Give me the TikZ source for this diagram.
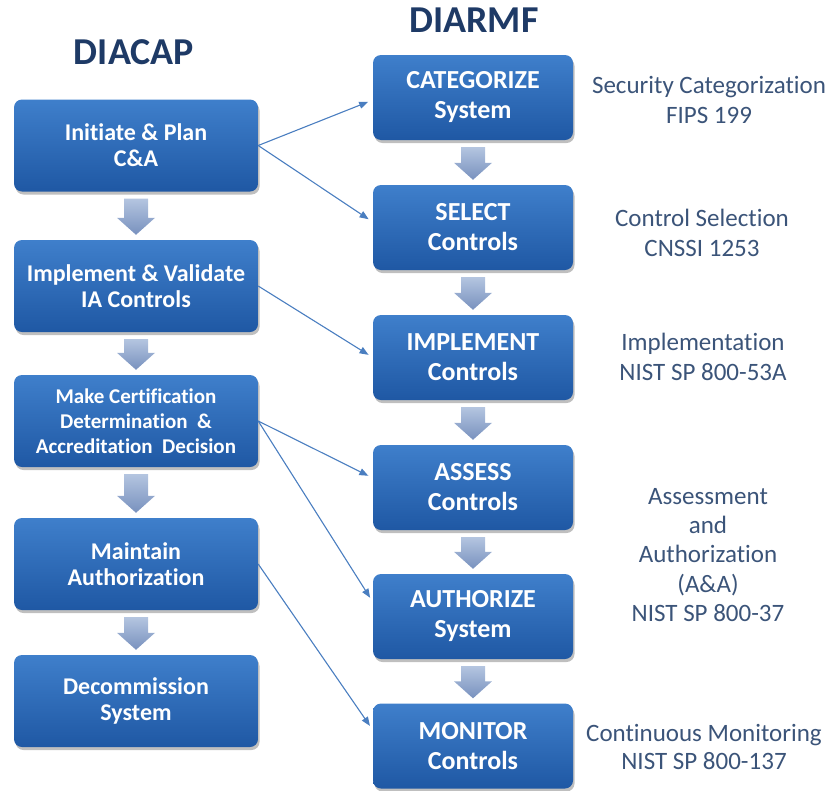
\documentclass[tikz,border=0pt]{standalone}
\usepackage{fontspec}
\setmainfont{Carlito}[Ligatures=CommonOff]
\usetikzlibrary{arrows.meta,calc,shadows}
\definecolor{titlec}{HTML}{1E3A66}
\definecolor{labc}{HTML}{3B5479}
\definecolor{boxtop}{HTML}{3F7FCB}
\definecolor{boxbot}{HTML}{1F58A4}
\definecolor{arrtop}{HTML}{B4C5E0}
\definecolor{arrbot}{HTML}{7891BE}
\definecolor{connc}{HTML}{4A7EC0}
\newcommand{\blockarr}[2]{%
  \path[barrow] let \p1=($(#1.south)+(0,7)$), \p2=($(#2.north)+(0,-5)$) in
    (\x1-12pt,\y1) -- (\x1+12pt,\y1) -- (\x1+12pt,\y2+17pt) -- (\x1+19pt,\y2+17pt)
    -- (\x1,\y2) -- (\x1-19pt,\y2+17pt) -- (\x1-12pt,\y2+17pt) -- cycle;}
\begin{document}
\begin{tikzpicture}[x=1pt,y=-1pt,
  box/.style={rounded corners=8pt, top color=boxtop, bottom color=boxbot, text=white,
    align=center, inner sep=0pt,
    drop shadow={shadow xshift=1.5pt, shadow yshift=-3pt, opacity=0.25, fill=black}},
  lbox/.style={box, minimum width=244pt, minimum height=92pt,
    font=\bfseries\fontsize{24}{26}\selectfont},
  rbox/.style={box, minimum width=200pt, minimum height=85pt,
    font=\bfseries\fontsize{26}{30}\selectfont},
  lab/.style={text=labc, align=center, inner sep=0pt, font=\fontsize{25}{30}\selectfont},
  ttl/.style={text=titlec, inner sep=0pt, font=\bfseries\fontsize{38}{40}\selectfont},
  conn/.style={draw=connc, line width=1.1pt, -{Triangle[length=9pt,width=7pt]}, shorten >=5pt},
  barrow/.style={top color=arrtop, bottom color=arrbot, draw=none}]
\useasboundingbox (0,0) rectangle (829,790);

\node[ttl] (tdiacap) at (134,52) {DIACAP};
\node[ttl] (tdiarmf) at (474,20) {DIARMF};

\node[lbox] (l1) at (136,145.5) {Initiate \& Plan\\C\&A};
\node[lbox] (l2) at (136,286) {Implement \& Validate\\IA Controls};
\node[lbox, font=\bfseries\fontsize{21}{25}\selectfont] (l3) at (136,421)
  {Make Certification\\Determination\ \ \&\\Accreditation\ \ Decision};
\node[lbox] (l4) at (136,564) {Maintain\\Authorization};
\node[lbox] (l5) at (136,701) {Decommission\\System};

\node[rbox] (cat) at (473,97.5) {CATEGORIZE\\System};
\node[rbox] (sel) at (473,227.5) {SELECT\\Controls};
\node[rbox] (imp) at (473,357.5) {IMPLEMENT\\Controls};
\node[rbox] (ass) at (473,487.5) {ASSESS\\Controls};
\node[rbox] (aut) at (473,616.5) {AUTHORIZE\\System};
\node[rbox] (mon) at (473,746) {MONITOR\\Controls};

\blockarr{l1}{l2}
\blockarr{l2}{l3}
\blockarr{l3}{l4}
\blockarr{l4}{l5}
\blockarr{cat}{sel}
\blockarr{sel}{imp}
\blockarr{imp}{ass}
\blockarr{ass}{aut}
\blockarr{aut}{mon}

\node[lab] (t1) at (709,99.5) {Security Categorization\\FIPS 199};
\node[lab] (t2) at (702,233) {Control Selection\\CNSSI 1253};
\node[lab] (t3) at (703,357) {Implementation\\NIST SP 800-53A};
\node[lab, font=\fontsize{25}{29.3}\selectfont] (t4) at (708,555)
  {Assessment\\and\\Authorization\\(A\&A)\\NIST SP 800-37};
\node[lab, font=\fontsize{25}{28}\selectfont] (t5) at (704,747)
  {Continuous Monitoring\\NIST SP 800-137};

\draw[conn] (l1.east) -- ($(cat.west)+(0,2.5)$);
\draw[conn] (l1.east) -- ($(sel.west)+(0,-5.5)$);
\draw[conn] (l2.east) -- (imp.west);
\draw[conn] (l3.east) -- ($(ass.west)+(0,-9.5)$);
\draw[conn] (l3.east) -- ($(aut.west)+(0,-14.5)$);
\draw[conn] (l4.east) -- ($(mon.west)+(0,-16)$);
\end{tikzpicture}
\end{document}
